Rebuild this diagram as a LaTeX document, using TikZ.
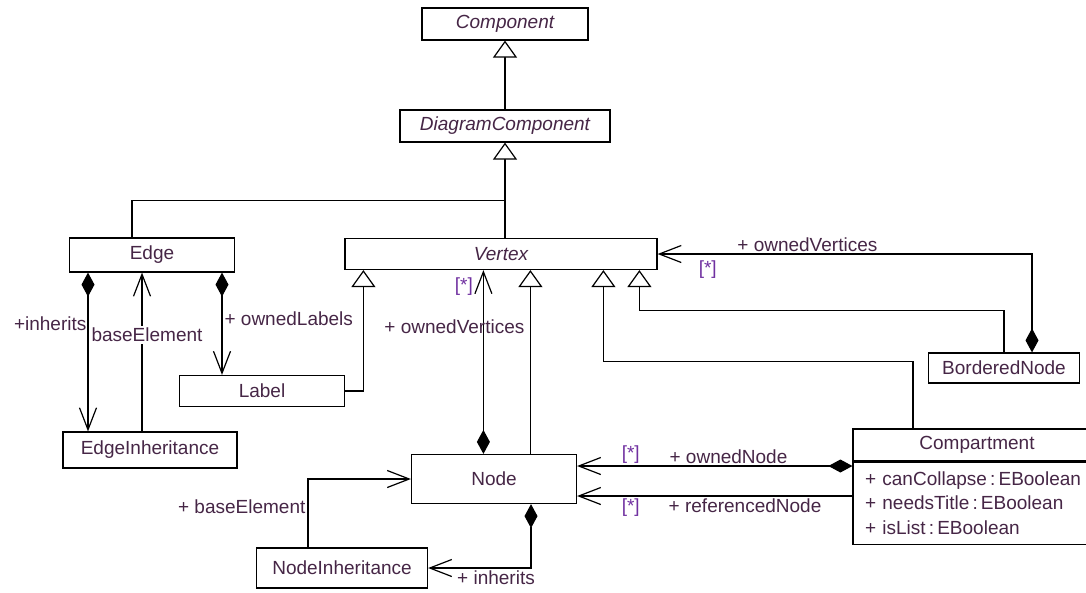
\documentclass[tikz,border=0pt]{standalone}
\usepackage{fontspec}
\setmainfont{Liberation Sans}
\usetikzlibrary{positioning, arrows.meta}

\definecolor{clsText}{RGB}{70,38,70}
\definecolor{multText}{RGB}{112,48,160}

\begin{document}
\begin{tikzpicture}[
    x=1pt, y=-1pt,
    box/.style={
        rectangle,
        draw=black,
        line width=1.2pt,
        fill=white,
        text=clsText,
        font=\fontsize{19}{23}\selectfont,
        inner sep=0pt,
        minimum height=32pt
    },
    abstract/.style={
        box,
        font=\fontsize{19}{23}\selectfont\itshape
    },
    line/.style={
        line width=1.2pt
    },
    inherit/.style={
        -{Triangle[open, length=17pt, width=24pt, fill=white]},
        line width=1.2pt
    },
    assoc/.style={
        -{Straight Barb[length=22pt, width=17pt]},
        line width=1.2pt
    },
    comp/.style={
        {Diamond[length=24pt, width=13pt]}-{Straight Barb[length=22pt, width=17pt]},
        line width=1.2pt
    },
    role/.style={
        font=\fontsize{19}{23}\selectfont,
        text=clsText,
        inner sep=2pt
    },
    mult/.style={
        role,
        text=multText
    }
]
\useasboundingbox (0,0) rectangle (1086,592);

%% Top of the hierarchy
\node[abstract, minimum width=166pt] (component) at (505,24) {Component};
\node[abstract, minimum width=210pt] (diagcomp) at (505,126) {DiagramComponent};
\node[abstract, minimum width=312pt, minimum height=31pt] (vertex) at (501,254) {Vertex};
\node[box, minimum width=165pt, minimum height=34pt] (edge) at (152,255) {Edge};

%% Left side
\node[box, minimum width=165pt, minimum height=31pt] (label) at (262,391) {Label};
\node[box, minimum width=174pt, minimum height=36pt] (edgeinh) at (150,450) {EdgeInheritance};

%% Middle and bottom
\node[box, minimum width=165pt, minimum height=49pt] (node) at (494,479) {Node};
\node[box, minimum width=171pt, minimum height=40pt] (nodeinh) at (342,568) {NodeInheritance};

%% Right side
\node[box, minimum width=151pt, minimum height=30pt] (bordered) at (1004,368) {BorderedNode};
\node[box, minimum width=248pt, minimum height=32pt] (compart) at (977,445) {Compartment};
\node[box, below=0pt of compart, minimum width=248pt, minimum height=82pt,
      text width=224pt, align=left, font=\fontsize{19}{24.5}\selectfont] (compattr)
      {+ canCollapse\,:\,EBoolean\\+ needsTitle\,:\,EBoolean\\+ isList\,:\,EBoolean};

%% Attachment points
\coordinate (v_label) at ([xshift=19pt]vertex.south west);
\coordinate (v_owned) at ([xshift=139pt]vertex.south west);
\coordinate (v_node) at ([xshift=186pt]vertex.south west);
\coordinate (v_comp) at ([xshift=259pt]vertex.south west);
\coordinate (v_border) at ([xshift=295pt]vertex.south west);
\coordinate (e_top) at ([xshift=-20pt]edge.north);
\coordinate (e_inh) at ([xshift=-64pt]edge.south);
\coordinate (e_base) at ([xshift=-10pt]edge.south);
\coordinate (e_lab) at ([xshift=70pt]edge.south);
\coordinate (n_own) at ([yshift=13pt]node.east);
\coordinate (n_ref) at ([yshift=-17pt]node.east);
\coordinate (split) at ([yshift=-58pt]diagcomp.south);

%% Generalizations
\draw[inherit] (diagcomp.north) -- (component.south);
\draw[inherit] (vertex.north -| diagcomp.south) -- (diagcomp.south);
\draw[line] (e_top) |- (split);
\draw[inherit] (label.east) -| (v_label);
\draw[inherit] (node.north -| v_node) -- (v_node);
\draw[inherit] (bordered.north) -- ++(0,-42) -| (v_border);
\draw[inherit] ([xshift=-64pt]compart.north) -- ++(0,-67) -| (v_comp);

%% Edge associations
\draw[comp] (e_inh) -- (e_inh |- edgeinh.north)
    node[role, pos=0.32, left, inner sep=1pt] {+inherits};
\draw[assoc] (e_base |- edgeinh.north) -- (e_base)
    node[role, pos=0.61, fill=white, xshift=5pt] {baseElement};
\draw[comp] (e_lab) -- (e_lab |- label.north)
    node[role, pos=0.45, right] {+ ownedLabels};

%% Vertex associations
\draw[comp] (node.north -| v_owned) -- (v_owned)
    node[mult, pos=0.91, left=8pt] {[*]}
    node[role, pos=0.69, xshift=-29pt] {+ ownedVertices};
\draw[comp] ([xshift=28pt]bordered.north) |- (vertex.east)
    node[role, pos=0.8, above] {+ ownedVertices}
    node[mult, pos=0.933, below=4pt] {[*]};

%% Node associations
\draw[comp] (compattr.west |- n_own) -- (n_own)
    node[role, pos=0.45, above] {+ ownedNode}
    node[mult, pos=0.805, above] {[*]};
\draw[assoc] (compattr.west |- n_ref) -- (n_ref)
    node[role, pos=0.39, below] {+ referencedNode}
    node[mult, pos=0.805, below] {[*]};
\draw[assoc] ([xshift=-34pt]nodeinh.north) |- (node.west)
    node[role, pos=0.3, left] {+ baseElement};
\draw[comp] ([xshift=37pt]node.south) |- (nodeinh.east)
    node[role, pos=0.67, below] {+ inherits};

\end{tikzpicture}
\end{document}
